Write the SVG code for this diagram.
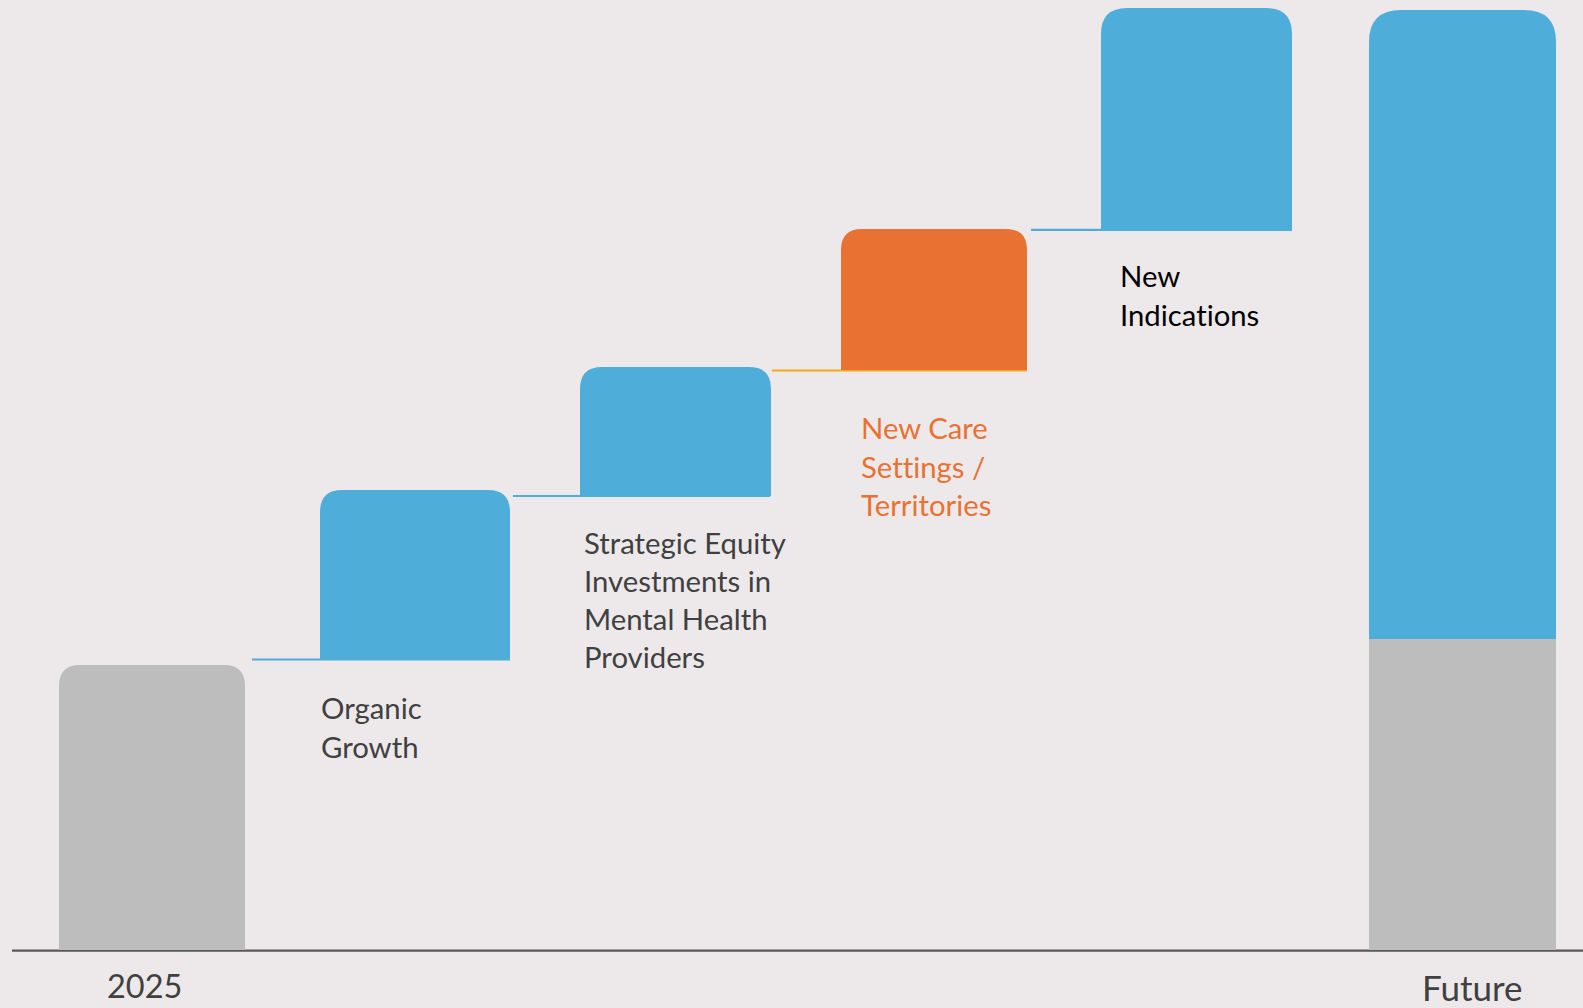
<svg xmlns="http://www.w3.org/2000/svg" width="1583" height="1008" viewBox="0 0 1583 1008">
<style>
.bg{fill:#EDE9EA}
.blue{fill:#4FAED9}
.gray{fill:#BDBDBD}
.orange{fill:#E97132}
.lbl{font-family:Lato,"Open Sans",sans-serif;font-size:29.3px;fill:#404040;font-variant-ligatures:none}
.ax{font-family:Lato,"Open Sans",sans-serif;font-size:35px;fill:#404040}
.conn{stroke-width:2.2;fill:none}
</style>
<rect class="bg" x="0" y="0" width="1583" height="1008"/>
<g id="connectors">
<line class="conn" x1="252" y1="659.5" x2="510" y2="659.5" stroke="#4FAED9"/>
<line class="conn" x1="513" y1="496" x2="770" y2="496" stroke="#4FAED9"/>
<line class="conn" x1="772" y1="370.5" x2="1027" y2="370.5" stroke="#F5A81C"/>
<line class="conn" x1="1031" y1="229.8" x2="1292" y2="229.8" stroke="#4FAED9"/>
<line x1="12" y1="950.7" x2="1583" y2="950.7" stroke="#595959" stroke-width="2.2"/>
</g>
<g id="bar-2025">
<path class="gray" d="M59,950 V686 Q59,665 80,665 H224 Q245,665 245,686 V950 Z"/>
<text class="ax" x="107" y="997.5" style="font-size:32.5px">2025</text>
</g>
<g id="organic-growth">
<path class="blue" d="M320,659 V512 Q320,490 342,490 H488 Q510,490 510,512 V659 Z"/>
<text class="lbl" x="321" y="719.3">Organic</text>
<text class="lbl" x="321" y="757.6">Growth</text>
</g>
<g id="strategic-equity">
<path class="blue" d="M580,496 V389 Q580,367 602,367 H749 Q771,367 771,389 V496 Z"/>
<text class="lbl" x="584" y="553.5">Strategic Equity</text>
<text class="lbl" x="584" y="591.8">Investments in</text>
<text class="lbl" x="584" y="630.1">Mental Health</text>
<text class="lbl" x="584" y="668.4">Providers</text>
</g>
<g id="new-care-settings">
<path class="orange" d="M841,370 V250 Q841,229 862,229 H1006 Q1027,229 1027,250 V370 Z"/>
<text class="lbl" x="861" y="439.3" style="fill:#E97132">New Care</text>
<text class="lbl" x="861" y="477.6" style="fill:#E97132">Settings /</text>
<text class="lbl" x="861" y="515.9" style="fill:#E97132">Territories</text>
</g>
<g id="new-indications">
<path class="blue" d="M1101,230 V34 Q1101,8 1127,8 H1266 Q1292,8 1292,34 V230 Z"/>
<text class="lbl" x="1120" y="287.3" style="fill:#000000">New</text>
<text class="lbl" x="1120" y="325.6" style="fill:#000000">Indications</text>
</g>
<g id="bar-future">
<path class="blue" d="M1369,640 V42 Q1369,10 1401,10 H1524 Q1556,10 1556,42 V640 Z"/>
<rect class="gray" x="1369" y="639" width="187" height="311"/>
<text class="ax" x="1422" y="1001">Future</text>
</g>
</svg>
